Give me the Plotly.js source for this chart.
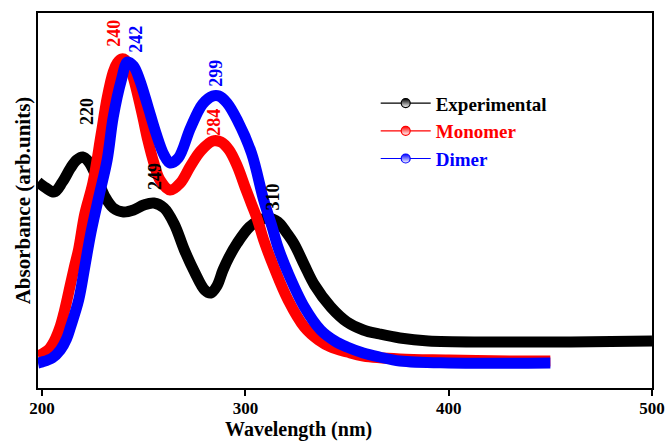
<!DOCTYPE html>
<html>
<head>
<meta charset="utf-8">
<script src="https://cdn.plot.ly/plotly-3.0.1.min.js"></script>
<style>html,body{margin:0;padding:0;background:#fff;}#chart{width:667px;height:441px;}</style>
</head>
<body>
<div id="chart"></div>
<script>
// Experimental spectrum (wavelength nm, absorbance arb. units)
var expWl  = [198, 202, 206, 210, 214, 217, 220, 223, 227, 231, 235, 240, 245, 250, 255, 260, 265, 270, 275, 280, 283, 286, 289, 292, 296, 302, 307, 311, 316, 320, 324, 329, 334, 342, 350, 358, 366, 376, 390, 420, 460, 500];
var expAbs = [0.824, 0.800, 0.784, 0.824, 0.880, 0.912, 0.924, 0.904, 0.840, 0.764, 0.720, 0.704, 0.712, 0.732, 0.740, 0.720, 0.656, 0.552, 0.464, 0.392, 0.380, 0.408, 0.472, 0.524, 0.580, 0.644, 0.672, 0.680, 0.664, 0.624, 0.576, 0.492, 0.412, 0.324, 0.264, 0.232, 0.216, 0.200, 0.188, 0.184, 0.184, 0.188];

// Monomer (calculated)
var monWl  = [198, 200, 203, 206, 209, 211, 214, 216, 218, 221, 225, 229, 232, 235, 237, 239, 241, 244, 249, 252, 255, 258, 263, 268, 273, 278, 284, 288, 292, 296, 300, 303, 306, 309, 314, 321, 329, 336, 342, 350, 358, 376, 400, 430, 450];
var monAbs = [0.128, 0.136, 0.152, 0.188, 0.248, 0.308, 0.416, 0.488, 0.556, 0.696, 0.820, 1.012, 1.160, 1.264, 1.300, 1.316, 1.312, 1.264, 1.104, 0.992, 0.900, 0.832, 0.792, 0.820, 0.888, 0.948, 0.988, 0.984, 0.952, 0.888, 0.800, 0.736, 0.672, 0.592, 0.484, 0.352, 0.244, 0.192, 0.164, 0.144, 0.128, 0.116, 0.112, 0.108, 0.108];

// Dimer (calculated)
var dimWl  = [198, 200, 205, 209, 212, 214, 218, 221, 224, 228, 232, 235, 239, 242, 245, 248, 252, 256, 260, 263, 267, 273, 279, 284, 287, 291, 296, 303, 309, 313, 316, 321, 329, 337, 344, 350, 358, 366, 376, 400, 450];
var dimAbs = [0.100, 0.104, 0.120, 0.152, 0.196, 0.244, 0.352, 0.484, 0.620, 0.768, 0.912, 1.084, 1.232, 1.304, 1.288, 1.232, 1.128, 1.020, 0.932, 0.900, 0.920, 1.040, 1.136, 1.168, 1.168, 1.140, 1.072, 0.940, 0.752, 0.648, 0.564, 0.460, 0.324, 0.232, 0.188, 0.164, 0.140, 0.124, 0.108, 0.100, 0.100];

var seriesNames = ['Experimental', 'Monomer', 'Dimer'];
var xTicks = [200, 300, 400, 500];

// Peak labels
var peakText  = ['220', '249', '310', '240', '284', '242', '299'];
var peakWl    = [222.1, 255.5, 313.4, 235.3, 284.4, 246.1, 285.4];
var peakAbs   = [1.104, 0.848, 0.764, 1.420, 1.064, 1.396, 1.260];
var peakSeries = [0, 0, 0, 1, 1, 2, 2];

var colors = ['#000000', '#ff0000', '#0000ff'];
var serif = 'Liberation Serif, Times New Roman, serif';

var xs = [expWl, monWl, dimWl];
var ys = [expAbs, monAbs, dimAbs];

var data = [];
for (var i = 0; i < 3; i++) {
  data.push({
    x: xs[i], y: ys[i], type: 'scatter', mode: 'lines',
    line: {color: colors[i], width: 11, shape: 'spline', smoothing: 1},
    showlegend: false, hoverinfo: 'skip'
  });
}
for (var j = 0; j < 3; j++) {
  var nm = j === 0 ? seriesNames[j] : '<span style="color:' + colors[j] + '">' + seriesNames[j] + '</span>';
  data.push({
    x: [null], y: [null], type: 'scatter', mode: 'lines+markers', name: nm,
    line: {color: colors[j], width: 1.2},
    marker: {symbol: 'circle', size: 9, color: colors[j],
             gradient: {type: 'vertical', color: '#ffffff'},
             line: {color: colors[j], width: 1.2}}
  });
}

var annotations = [];
for (var k = 0; k < peakText.length; k++) {
  annotations.push({
    x: peakWl[k], y: peakAbs[k], xref: 'x', yref: 'y', text: peakText[k],
    showarrow: false, textangle: -90, xanchor: 'center', yanchor: 'middle',
    font: {family: serif, size: 18, color: colors[peakSeries[k]], weight: 'bold'}
  });
}
annotations.push({
  x: 0.4235, y: -0.111, xref: 'paper', yref: 'paper', text: 'Wavelength (nm)',
  showarrow: false, xanchor: 'center', yanchor: 'middle',
  font: {family: serif, size: 20, color: '#000', weight: 'bold'}
});

var layout = {
  width: 667, height: 441,
  margin: {l: 38, r: 15, t: 13, b: 53},
  paper_bgcolor: '#fff', plot_bgcolor: '#fff',
  font: {family: serif, color: '#000'},
  showlegend: true,
  legend: {x: 0.55, y: 0.81, xanchor: 'left', yanchor: 'top',
           bgcolor: 'rgba(0,0,0,0)', borderwidth: 0, itemwidth: 50,
           font: {family: serif, size: 19, color: '#000', weight: 'bold'}},
  xaxis: {range: [198, 500], tickvals: xTicks, ticktext: xTicks.map(String),
          ticks: 'outside', ticklen: 6, tickwidth: 2, tickcolor: '#000',
          ticklabelstandoff: -2,
          showline: true, linewidth: 2, linecolor: '#000', mirror: true,
          showgrid: false, zeroline: false,
          tickfont: {family: serif, size: 17, color: '#000', weight: 'bold'}},
  yaxis: {range: [0, 1.5], showticklabels: false, ticks: '',
          showline: true, linewidth: 2, linecolor: '#000', mirror: true,
          showgrid: false, zeroline: false,
          title: {text: 'Absorbance (arb.units)', standoff: 0,
                  font: {family: serif, size: 21, color: '#000', weight: 'bold'}}},
  annotations: annotations
};

Plotly.newPlot('chart', data, layout, {displayModeBar: false, staticPlot: true});
</script>
</body>
</html>
